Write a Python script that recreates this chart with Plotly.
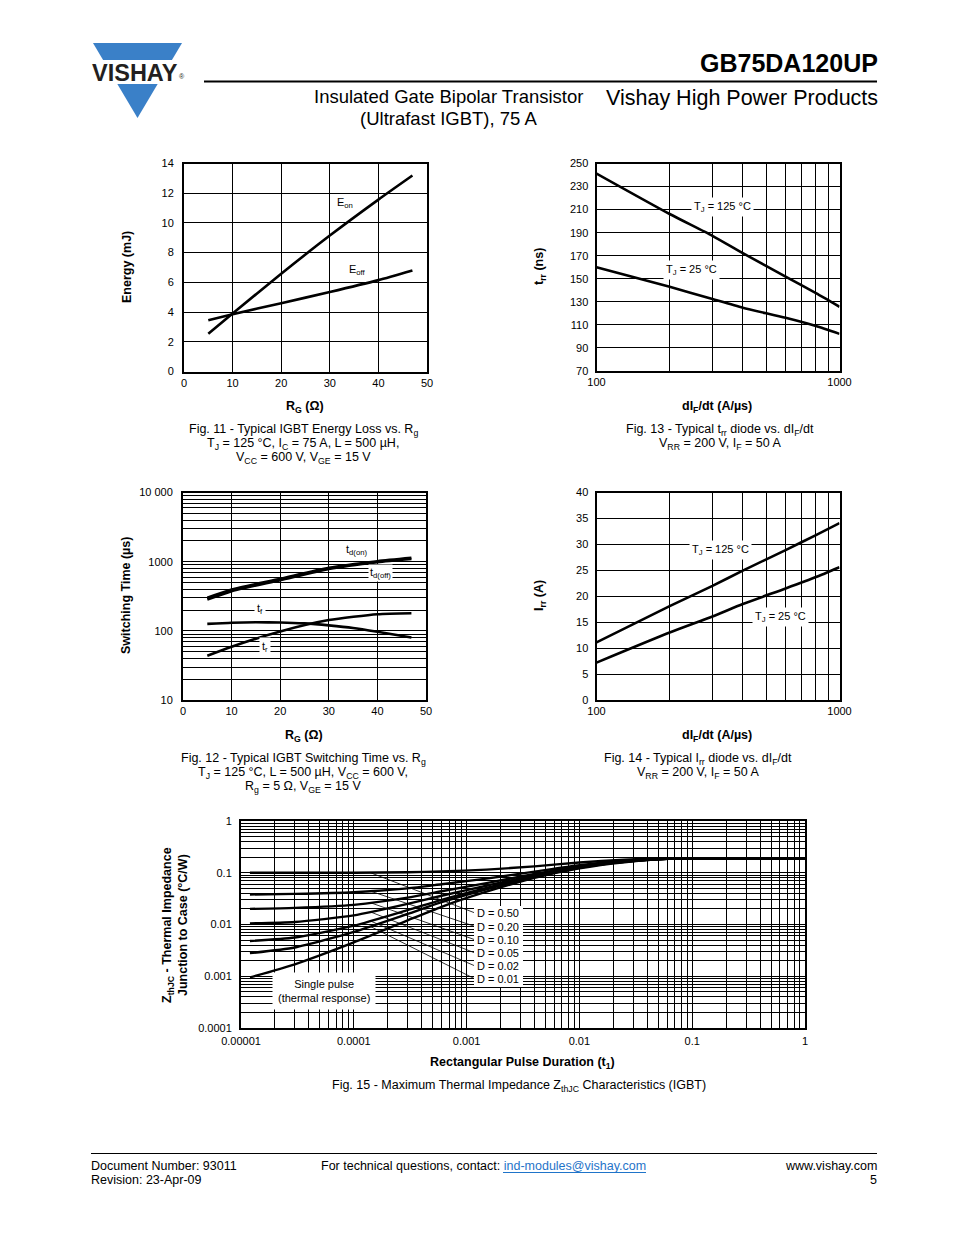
import plotly.graph_objects as go
import numpy as np

W, H = 954, 1235
FONT = "Liberation Sans, Arial, Helvetica, sans-serif"


def px(x):
    return x / W


def py(y):
    return 1 - y / H


# ---------------- data ----------------
# Fig. 11 - energy loss vs Rg
rg_e = [5, 10, 20, 30, 40, 47]
e_on = [2.54, 3.9, 6.58, 9.15, 11.57, 13.19]
e_off = [3.45, 3.85, 4.6, 5.35, 6.15, 6.8]

# Fig. 12 - switching time vs Rg
rg_t = [5, 10, 20, 30, 40, 47]
td_on = [300, 395, 565, 815, 1015, 1135]
td_off = [283, 375, 540, 785, 985, 1095]
t_r = [43.7, 59, 98, 143, 174, 180]
rg_tf = [5, 10, 15, 20, 25, 30, 35, 40, 47]
t_f = [126, 131, 133, 132, 128, 120, 110, 97, 80]

# Fig. 13 - trr vs dIF/dt
didt = [100, 200, 300, 400, 600, 800, 1000]
trr_125 = [241.3, 206.2, 187.3, 172.2, 151.9, 137.5, 125.7]
trr_25 = [160, 143.1, 132.4, 124.9, 116.1, 109, 102.2]

# Fig. 14 - Irr vs dIF/dt
irr_125 = [11.1, 18.1, 22.0, 24.95, 28.9, 31.8, 34.1]
irr_25 = [7.2, 13.0, 16.1, 18.5, 21.5, 23.7, 25.6]

# Fig. 15 - thermal impedance
t_pulse = [1.2e-5, 3e-5, 1e-4, 3e-4, 6e-4, 1.5e-3, 4e-3, 1e-2, 2.5e-2, 6e-2, 1]
zth = {
    "D = 0.50": [0.100, 0.100, 0.100, 0.102, 0.106, 0.115, 0.133, 0.158, 0.178, 0.19, 0.19],
    "D = 0.20": [0.038, 0.039, 0.042, 0.050, 0.060, 0.077, 0.105, 0.140, 0.170, 0.188, 0.19],
    "D = 0.10": [0.020, 0.021, 0.024, 0.033, 0.044, 0.063, 0.095, 0.133, 0.167, 0.187, 0.19],
    "D = 0.05": [0.0105, 0.0112, 0.015, 0.025, 0.036, 0.056, 0.090, 0.130, 0.165, 0.187, 0.19],
    "D = 0.02": [0.0048, 0.0056, 0.0095, 0.019, 0.030, 0.051, 0.086, 0.127, 0.163, 0.186, 0.19],
    "D = 0.01": [0.0028, 0.0036, 0.0072, 0.016, 0.027, 0.048, 0.083, 0.125, 0.162, 0.186, 0.19],
    "Single": [0.00095, 0.0017, 0.0045, 0.012, 0.022, 0.043, 0.080, 0.122, 0.160, 0.185, 0.19],
}
d_labels = ["D = 0.50", "D = 0.20", "D = 0.10", "D = 0.05", "D = 0.02", "D = 0.01"]
d_label_t = 0.0019
d_label_z = [0.01668, 0.00915, 0.00506, 0.00281, 0.00158, 0.000885]
d_leader_t0 = 1.4e-4
d_leader_t1 = 0.00119

fig = go.Figure()
LW = 2.6


def line(x, y, xa, ya, w=LW):
    fig.add_trace(go.Scatter(x=x, y=y, mode="lines", xaxis=xa, yaxis=ya,
                             line=dict(color="black", width=w, shape="spline", smoothing=0.6),
                             showlegend=False, hoverinfo="skip"))


# Fig 11
line(rg_e, e_on, "x", "y")
line(rg_e, e_off, "x", "y")
# Fig 13
line(didt, trr_125, "x2", "y2")
line(didt, trr_25, "x2", "y2")
# Fig 12
line(rg_t, td_on, "x3", "y3")
line(rg_t, td_off, "x3", "y3")
line(rg_tf, t_f, "x3", "y3")
line(rg_t, t_r, "x3", "y3")
# Fig 14
line(didt, irr_125, "x4", "y4")
line(didt, irr_25, "x4", "y4")

# Fig 15 leader lines (computed on the curves)
lt = np.log10(t_pulse)
for lab, zl in zip(d_labels, d_label_z):
    z0 = 10 ** np.interp(np.log10(d_leader_t0), lt, np.log10(zth[lab]))
    fig.add_trace(go.Scatter(x=[d_leader_t0, d_leader_t1], y=[z0, zl], mode="lines",
                             xaxis="x5", yaxis="y5", line=dict(color="black", width=0.8),
                             showlegend=False, hoverinfo="skip"))
for lab, zz in zth.items():
    line(t_pulse, zz, "x5", "y5", w=2.4)


def ax(domain, **kw):
    d = dict(domain=domain, showline=True, linecolor="black", linewidth=2, mirror=True,
             showgrid=True, gridcolor="black", gridwidth=1, zeroline=False, ticks="",
             automargin=False,
             tickfont=dict(size=11, color="black", family=FONT), fixedrange=True)
    d.update(kw)
    return d


def logaxis(d0, d1, labels):
    major = [10.0 ** d for d in range(d0, d1 + 1)]
    minor = [m * 10.0 ** d for d in range(d0, d1) for m in range(2, 10)]
    return dict(type="log", range=[d0, d1], tickvals=major, ticktext=labels,
                minor=dict(tickvals=minor, showgrid=True, gridcolor="black", gridwidth=1, ticks=""))


xd = lambda a, b: [px(a), px(b)]
yd = lambda top, bot: [py(bot), py(top)]

lab12 = ["10", "100", "1000", "10 000"]
labdi = ["100", "1000"]
lab15x = ["0.00001", "0.0001", "0.001", "0.01", "0.1", "1"]
lab15y = ["0.0001", "0.001", "0.01", "0.1", "1"]

fig.update_layout(
    template="none",
    width=W, height=H, margin=dict(l=0, r=0, t=0, b=0, pad=0, autoexpand=False),
    paper_bgcolor="white", plot_bgcolor="white",
    font=dict(family=FONT, color="black"),
    showlegend=False,
    xaxis=ax(xd(184, 427), anchor="y", range=[0, 50], dtick=10, ticklabelstandoff=0),
    yaxis=ax(yd(163.5, 371.5), anchor="x", range=[0, 14], dtick=2, ticklabelstandoff=6),
    xaxis2=ax(xd(596.5, 839.5), anchor="y2", ticklabelstandoff=0, **logaxis(2, 3, labdi)),
    yaxis2=ax(yd(163.5, 371), anchor="x2", range=[70, 250], tick0=70, dtick=20, ticklabelstandoff=4),
    xaxis3=ax(xd(183, 426), anchor="y3", range=[0, 50], dtick=10, ticklabelstandoff=0),
    yaxis3=ax(yd(492.5, 700), anchor="x3", ticklabelstandoff=6, **logaxis(1, 4, lab12)),
    xaxis4=ax(xd(596.5, 839.5), anchor="y4", ticklabelstandoff=0, **logaxis(2, 3, labdi)),
    yaxis4=ax(yd(492.5, 700), anchor="x4", range=[0, 40], dtick=5, ticklabelstandoff=4),
    xaxis5=ax(xd(241, 805), anchor="y5", ticklabelstandoff=2, **logaxis(-5, 0, lab15x)),
    yaxis5=ax(yd(821, 1028), anchor="x5", ticklabelstandoff=5, **logaxis(-4, 0, lab15y)),
)

ann = []
shapes = []


def ptext(x, y, text, size=12.5, anchor="center", bold=False, angle=0, color="black"):
    if bold:
        text = "<b>" + text + "</b>"
    ann.append(dict(x=px(x), y=py(y), xref="paper", yref="paper", text=text, showarrow=False,
                    xanchor=anchor, yanchor="middle", textangle=angle,
                    font=dict(size=size, color=color, family=FONT)))


def dtext(x, y, xa, ya, text, size=11, bg=None, pad=1):
    d = dict(x=x, y=y, xref=xa, yref=ya, text=text, showarrow=False, xanchor="center",
             yanchor="middle", font=dict(size=size, color="black", family=FONT), borderpad=pad)
    if bg:
        d["bgcolor"] = bg
    ann.append(d)


# in-plot labels
dtext(33.2, 11.37, "x", "y", "E<sub>on</sub>")
dtext(35.8, 6.85, "x", "y", "E<sub>off</sub>")
dtext(np.log10(329), 212.5, "x2", "y2", "T<sub>J</sub> = 125 °C", bg="white", pad=2)
dtext(np.log10(247), 157.7, "x2", "y2", "T<sub>J</sub> = 25 °C", bg="white", pad=2)
dtext(35.8, np.log10(1476), "x3", "y3", "t<sub>d(on)</sub>", bg="white", pad=1)
dtext(40.7, np.log10(686), "x3", "y3", "t<sub>d(off)</sub>", bg="white", pad=1)
dtext(15.8, np.log10(207), "x3", "y3", "t<sub>f</sub>", bg="white", pad=2)
dtext(16.9, np.log10(58.4), "x3", "y3", "t<sub>r</sub>", bg="white", pad=2)
dtext(np.log10(323), 28.9, "x4", "y4", "T<sub>J</sub> = 125 °C", bg="white", pad=2)
dtext(np.log10(570), 16.0, "x4", "y4", "T<sub>J</sub> = 25 °C", bg="white", pad=2)
shapes.append(dict(type="rect", xref="paper", yref="paper", x0=px(474), x1=px(523),
                   y0=py(987), y1=py(906), fillcolor="white", line=dict(width=0), layer="above"))
for lab, zl in zip(d_labels, d_label_z):
    dtext(np.log10(d_label_t), np.log10(zl), "x5", "y5", lab, size=11)
dtext(np.log10(5.4e-5), np.log10(5.2e-4), "x5", "y5", "Single pulse<br>(thermal response)",
      size=11, bg="white", pad=5)

# axis titles
ptext(305, 407, "R<sub>G</sub> (Ω)", bold=True)
ptext(717, 407, "dI<sub>F</sub>/dt (A/µs)", bold=True)
ptext(304, 736, "R<sub>G</sub> (Ω)", bold=True)
ptext(717, 736, "dI<sub>F</sub>/dt (A/µs)", bold=True)
ptext(522, 1063, "Rectangular Pulse Duration (t<sub>1</sub>)", bold=True)
ptext(127, 267, "Energy (mJ)", bold=True, angle=-90)
ptext(540, 267, "t<sub>rr</sub> (ns)", bold=True, angle=-90)
ptext(126, 596, "Switching Time (µs)", bold=True, angle=-90)
ptext(540, 596, "I<sub>rr</sub> (A)", bold=True, angle=-90)
ptext(168, 925, "Z<sub>thJC</sub> - Thermal Impedance", bold=True, angle=-90)
ptext(183, 925, "Junction to Case (°C/W)", bold=True, angle=-90)

# captions
ptext(303, 430, "Fig. 11 - Typical IGBT Energy Loss vs. R<sub>g</sub>")
ptext(303, 444, "T<sub>J</sub> = 125 °C, I<sub>C</sub> = 75 A, L = 500 µH,")
ptext(303, 458, "V<sub>CC</sub> = 600 V, V<sub>GE</sub> = 15 V")
ptext(720, 430, "Fig. 13 - Typical t<sub>rr</sub> diode vs. dI<sub>F</sub>/dt")
ptext(720, 444, "V<sub>RR</sub> = 200 V, I<sub>F</sub> = 50 A")
ptext(303, 759, "Fig. 12 - Typical IGBT Switching Time vs. R<sub>g</sub>")
ptext(303, 773, "T<sub>J</sub> = 125 °C, L = 500 µH, V<sub>CC</sub> = 600 V,")
ptext(303, 787, "R<sub>g</sub> = 5 Ω, V<sub>GE</sub> = 15 V")
ptext(698, 759, "Fig. 14 - Typical I<sub>rr</sub> diode vs. dI<sub>F</sub>/dt")
ptext(698, 773, "V<sub>RR</sub> = 200 V, I<sub>F</sub> = 50 A")
ptext(519, 1086, "Fig. 15 - Maximum Thermal Impedance Z<sub>thJC</sub> Characteristics (IGBT)")

# header
ptext(880, 63, "GB75DA120UP", size=25, anchor="right", bold=True)
ptext(448, 96, "Insulated Gate Bipolar Transistor", size=18.5)
ptext(448, 118, "(Ultrafast IGBT), 75 A", size=18.5)
ptext(880, 98, "Vishay High Power Products", size=21.5, anchor="right")
shapes.append(dict(type="line", xref="paper", yref="paper", x0=px(204), x1=px(877),
                   y0=py(81.5), y1=py(81.5), line=dict(color="black", width=2)))
# logo
tri = "M {},{} L {},{} L {},{} Z".format(px(93), py(43), px(182), py(43), px(137.5), py(118))
shapes.append(dict(type="path", xref="paper", yref="paper", path=tri,
                   fillcolor="#3a80c8", line=dict(width=0)))
shapes.append(dict(type="rect", xref="paper", yref="paper", x0=px(88), x1=px(188),
                   y0=py(84), y1=py(60), fillcolor="white", line=dict(width=0)))
ptext(135, 73, "VISHAY", size=23.5, bold=True, color="#231f20")
ptext(182, 77, "®", size=7, color="#231f20")

# footer
shapes.append(dict(type="line", xref="paper", yref="paper", x0=px(91), x1=px(877),
                   y0=py(1153.5), y1=py(1153.5), line=dict(color="black", width=1.2)))
ptext(89, 1166, "Document Number: 93011", size=12.5, anchor="left")
ptext(89, 1180, "Revision: 23-Apr-09", size=12.5, anchor="left")
ptext(319, 1166, "For technical questions, contact: <span style='color:#1f74c9'>ind-modules@vishay.com</span>",
      size=12.5, anchor="left")
shapes.append(dict(type="line", xref="paper", yref="paper", x0=px(503), x1=px(646),
                   y0=py(1172.5), y1=py(1172.5), line=dict(color="#1f74c9", width=1)))
ptext(879, 1166, "www.vishay.com", size=12.5, anchor="right")
ptext(879, 1180, "5", size=12.5, anchor="right")

fig.update_layout(annotations=ann, shapes=shapes)
fig.write_html("out.html", config={"displayModeBar": False},
               post_script="document.body.style.margin='0px';document.body.style.overflow='hidden';")
